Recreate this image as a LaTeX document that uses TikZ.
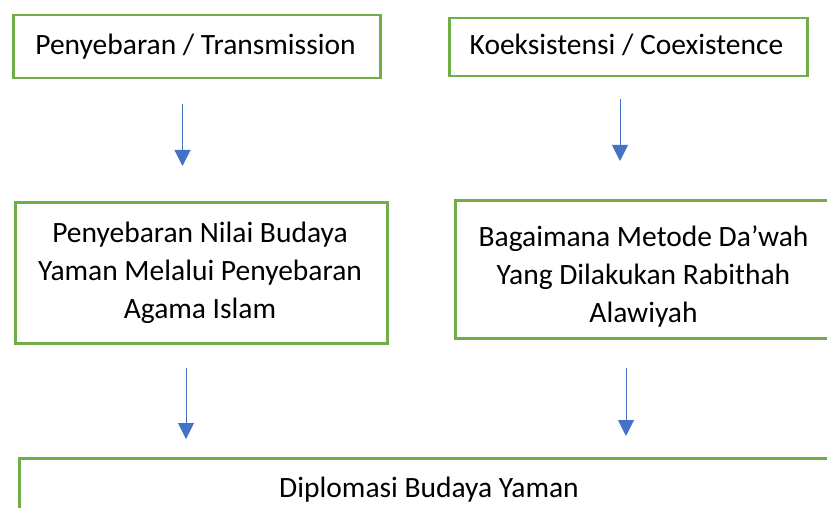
\documentclass[tikz,border=0pt]{standalone}
\usepackage{fontspec}
\setmainfont{Carlito}
\usetikzlibrary{arrows.meta}
\definecolor{boxgreen}{HTML}{70AD47}
\definecolor{arrowblue}{HTML}{4472C4}
\begin{document}
\begin{tikzpicture}[x=1pt,y=-1pt,
  box/.style={draw=boxgreen, line width=2.5pt, fill=white, inner sep=0pt, anchor=north west},
  txt/.style={font=\fontsize{29.5}{38}\selectfont, align=center, text=black, inner sep=0pt},
  arr/.style={draw=arrowblue, line width=1pt, -{Triangle[width=16pt,length=16pt]}}]
\useasboundingbox (0,0) rectangle (827,508);
\clip (0,0) rectangle (827,508);
\fill[white] (0,0) rectangle (827,508);
% boxes
\node[box, minimum width=367pt, minimum height=63pt] (b1) at (12,14) {};
\node[box, minimum width=358pt, minimum height=58pt] (b2) at (448,17) {};
\node[box, minimum width=372pt, minimum height=141pt] (b3) at (14,201) {};
\node[box, minimum width=380pt, minimum height=138pt] (b4) at (454,199) {};
\node[box, minimum width=830pt, minimum height=100pt] (b5) at (18,457) {};
% texts
\node[txt, anchor=base] (t1) at (195.5,55) {Penyebaran / Transmission};
\node[txt, anchor=base] (t2) at (626.5,55) {Koeksistensi / Coexistence};
\node[txt] (t3) at (200,273) {Penyebaran Nilai Budaya\\Yaman Melalui Penyebaran\\Agama Islam};
\node[txt] (t4) at (643.5,276) {Bagaimana Metode Da’wah\\Yang Dilakukan Rabithah\\Alawiyah};
\node[txt, anchor=base] (t5) at (429,497) {Diplomasi Budaya Yaman};
% arrows
\coordinate (a1s) at (182.5,104); \coordinate (a1e) at (182.5,166);
\coordinate (a2s) at (620,99);   \coordinate (a2e) at (620,161);
\coordinate (a3s) at (186,368);  \coordinate (a3e) at (186,439);
\coordinate (a4s) at (626,368);  \coordinate (a4e) at (626,436);
\draw[arr] (a1s) -- (a1e);
\draw[arr] (a2s) -- (a2e);
\draw[arr] (a3s) -- (a3e);
\draw[arr] (a4s) -- (a4e);
\end{tikzpicture}
\end{document}
